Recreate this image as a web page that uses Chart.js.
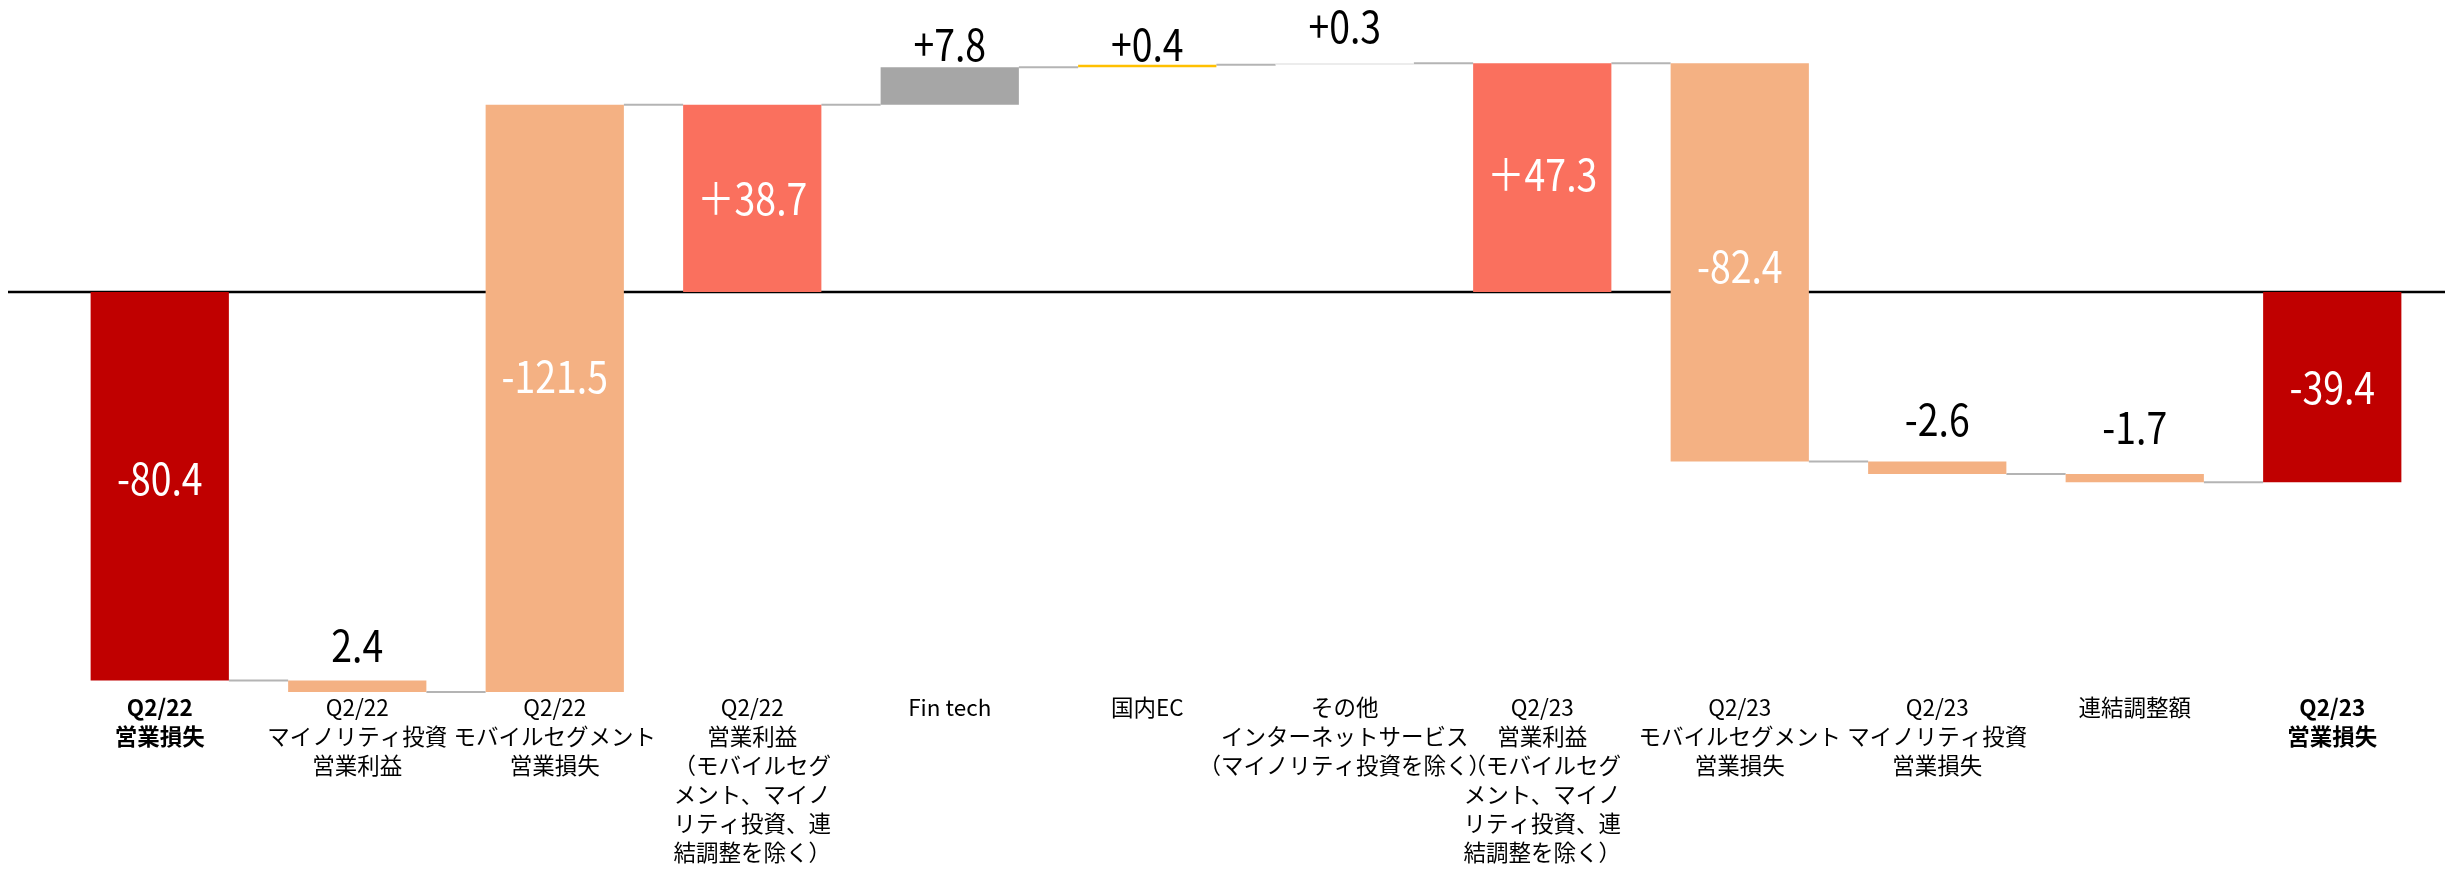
<!DOCTYPE html>
<html lang="ja">
<head>
<meta charset="utf-8">
<title>営業損益ウォーターフォール</title>
<script src="https://cdn.jsdelivr.net/npm/chart.js@4.4.1/dist/chart.umd.min.js"></script>
<style>
  html, body { margin: 0; padding: 0; background: #fff; }
  #wrap { width: 2445px; height: 869px; position: relative; }
</style>
</head>
<body>
<div id="wrap"><canvas id="chart"></canvas></div>
<script>
// ── Data ──
const categories = [
  ['Q2/22', '営業損失'],
  ['Q2/22', 'マイノリティ投資', '営業利益'],
  ['Q2/22', 'モバイルセグメント', '営業損失'],
  ['Q2/22', '営業利益', '（モバイルセグ', 'メント、マイノ', 'リティ投資、連', '結調整を除く）'],
  ['Fin tech'],
  ['国内EC'],
  ['その他', 'インターネットサービス', '（マイノリティ投資を除く）'],
  ['Q2/23', '営業利益', '（モバイルセグ', 'メント、マイノ', 'リティ投資、連', '結調整を除く）'],
  ['Q2/23', 'モバイルセグメント', '営業損失'],
  ['Q2/23', 'マイノリティ投資', '営業損失'],
  ['連結調整額'],
  ['Q2/23', '営業損失']
];

// floating bar ranges as drawn in the picture
const barStart = [-80.4, -82.8, -82.8, 0, 38.7, 46.5, 47.0, 0, -35.1, -37.7, -39.4, -39.4];
const barEnd   = [0, -80.4, 38.7, 38.7, 46.5, 47.0, 47.3, 47.3, 47.3, -35.1, -37.7, 0];

const valueText = ['-80.4', '2.4', '-121.5', '＋38.7', '+7.8', '+0.4', '+0.3', '＋47.3', '-82.4', '-2.6', '-1.7', '-39.4'];

// ── Styles ──
const barColors = ['#C00000', '#F4B183', '#F4B183', '#FA705E', '#A6A6A6', '#FFC000',
                   '#E6E6E6', '#FA705E', '#F4B183', '#F4B183', '#F4B183', '#C00000'];
const boldCats = [0, 11];
// small vertical nudges (px) for the value labels, as placed in the original slide
const labelNudge = [-8, -6, -22, 0, 6, 8, -8, -3, 4, -14, -18, 0];

const LABEL_FONT = "'Noto Sans CJK JP', 'Noto Sans', sans-serif";

// shared edge between neighbouring bars → level of connector line
function sharedEdge(i) {
  const a = [barStart[i], barEnd[i]];
  const b = [barStart[i + 1], barEnd[i + 1]];
  for (const v of a) if (b.includes(v)) return v;
  return barEnd[i];
}

const waterfallExtras = {
  id: 'waterfallExtras',
  beforeDatasetsDraw(chart) {
    const { ctx, scales: { y } } = chart;
    const meta = chart.getDatasetMeta(0);
    const y0 = y.getPixelForValue(0);
    ctx.save();
    // zero line
    ctx.strokeStyle = '#000';
    ctx.lineWidth = 2.5;
    ctx.beginPath();
    ctx.moveTo(8, y0);
    ctx.lineTo(chart.width, y0);
    ctx.stroke();
    // connectors
    ctx.strokeStyle = '#B4B4B4';
    ctx.lineWidth = 2;
    for (let i = 0; i < meta.data.length - 1; i++) {
      const a = meta.data[i], b = meta.data[i + 1];
      const py = y.getPixelForValue(sharedEdge(i));
      ctx.beginPath();
      ctx.moveTo(a.x + a.width / 2, py);
      ctx.lineTo(b.x - b.width / 2, py);
      ctx.stroke();
    }
    ctx.restore();
  },
  afterDatasetsDraw(chart) {
    const { ctx } = chart;
    const meta = chart.getDatasetMeta(0);
    meta.data.forEach((bar, i) => {
      const top = Math.min(bar.y, bar.base);
      const bottom = Math.max(bar.y, bar.base);
      const inside = bottom - top > 60;
      ctx.save();
      ctx.font = '44px ' + LABEL_FONT;
      ctx.textAlign = 'center';
      ctx.fillStyle = inside ? '#fff' : '#000';
      ctx.textBaseline = inside ? 'middle' : 'alphabetic';
      const ty = (inside ? (top + bottom) / 2 : top - 12) + labelNudge[i];
      // condensed look of the original figures
      ctx.translate(bar.x, ty);
      ctx.scale(0.85, 1);
      ctx.fillText(valueText[i], 0, 0);
      ctx.restore();
    });
  }
};

new Chart(document.getElementById('chart'), {
  type: 'bar',
  data: {
    labels: categories,
    datasets: [{
      data: barStart.map((s, i) => [s, barEnd[i]]),
      backgroundColor: barColors,
      borderWidth: 0,
      barPercentage: 0.7,
      categoryPercentage: 1.0
    }]
  },
  options: {
    responsive: true,
    maintainAspectRatio: false,
    animation: false,
    layout: { padding: { left: 61, right: 14, top: 0, bottom: 2 } },
    plugins: {
      legend: { display: false },
      tooltip: { enabled: false }
    },
    scales: {
      x: {
        grid: { display: false, drawTicks: false },
        border: { display: false },
        ticks: {
          color: '#000',
          autoSkip: false,
          maxRotation: 0,
          minRotation: 0,
          padding: 0,
          font: (c) => ({
            family: LABEL_FONT,
            size: 22.5,
            lineHeight: '29px',
            weight: boldCats.includes(c.index) ? 'bold' : 'normal'
          })
        }
      },
      y: {
        display: false,
        min: -83,
        max: 60.4
      }
    }
  },
  plugins: [waterfallExtras]
});
</script>
</body>
</html>
